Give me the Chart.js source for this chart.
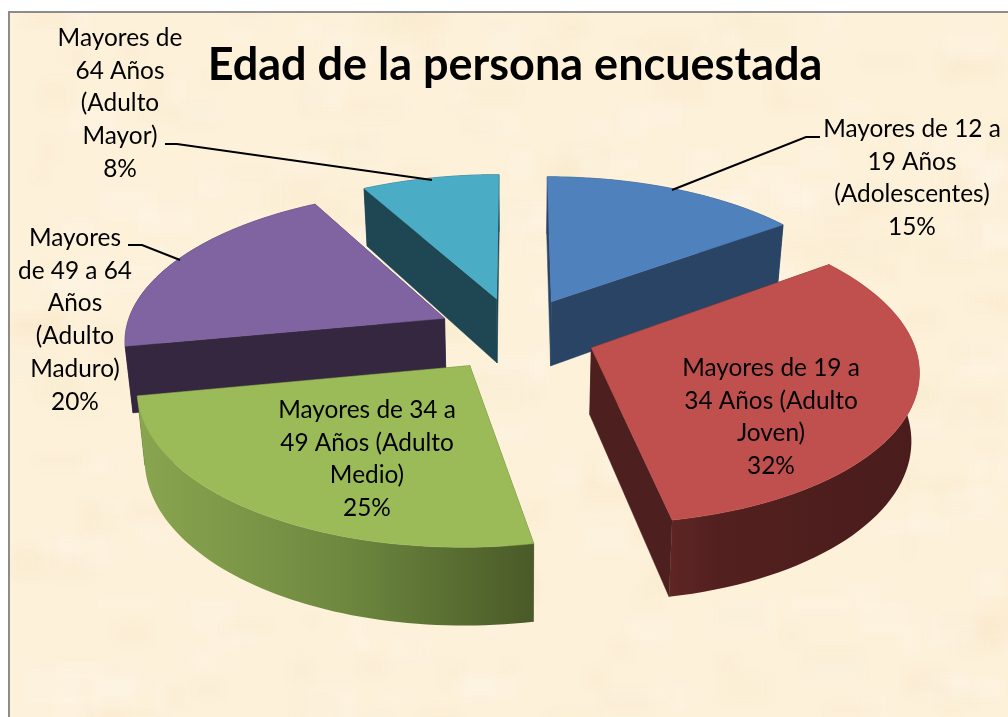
<!DOCTYPE html>
<html><head><meta charset="utf-8">
<script src="https://cdn.jsdelivr.net/npm/chart.js@4"></script>
<style>html,body{margin:0;padding:0;background:#fff;overflow:hidden}
#w{position:absolute;left:0;top:0;width:1008px;height:717px}</style>
</head><body><div id="w"><canvas id="c" width="1008" height="717"></canvas></div>
<script>
const categories = [
 "Mayores de 12 a 19 Años (Adolescentes)",
 "Mayores de 19 a 34 Años (Adulto Joven)",
 "Mayores de 34 a 49 Años (Adulto Medio)",
 "Mayores de 49 a 64 Años (Adulto Maduro)",
 "Mayores de 64 Años (Adulto Mayor)"];
const values = [15,32,25,20,8];
const titleText = "Edad de la persona encuestada";
const topColors = ["#4f81bd","#c0504d","#9bbb59","#8064a2","#4bacc6"];
const cutColors = ["#2a4466","#4e1f1f","#4c5c2a","#35273f","#1e4653"];
const labelLines = [
 ["Mayores de 12 a","19 Años","(Adolescentes)"],
 ["Mayores de 19 a","34 Años (Adulto","Joven)"],
 ["Mayores de 34 a","49 Años (Adulto","Medio)"],
 ["Mayores","de 49 a 64","Años","(Adulto","Maduro)"],
 ["Mayores de","64 Años","(Adulto","Mayor)"]];
const labelAnchor = [[912,129],[771,368],[367,410],[75,238],[120,38]];
const leaders = [
 [[672,190],[806,137],[820,137]],
 null,null,
 [[128,245],[142,245],[180,260]],
 [[165,144],[177,144],[432,180]]];
const view = {cx:516,cy:334,A:320,B:149,k:0.13,explode:0.25,depth:66,shrink:0.98};
const font = "Lato, 'Open Sans', sans-serif";

function project(X,Y,low){
  const w = 1 - view.k*Y, s = low ? view.shrink : 1;
  return [view.cx + view.A*X/w*s, view.cy + view.B*Y/w + (low ? view.depth/w : 0)];
}
function rim(a0,a1,ox,oy,low){
  const n = 60, pts = [];
  for(let i=0;i<=n;i++){const a=a0+(a1-a0)*i/n; pts.push(project(ox+Math.cos(a),oy+Math.sin(a),low));}
  return pts;
}
function poly(ctx,pts,fill){
  ctx.beginPath(); pts.forEach((p,i)=>i?ctx.lineTo(p[0],p[1]):ctx.moveTo(p[0],p[1]));
  ctx.closePath(); ctx.fillStyle=fill; ctx.fill();
  ctx.strokeStyle=typeof fill==='string'?fill:'transparent'; ctx.lineWidth=0.5; ctx.stroke();
}
function wallFill(ctx,i,pts){
  const xs=pts.map(p=>p[0]), x0=Math.min(...xs), x1=Math.max(...xs);
  const g=ctx.createLinearGradient(x0,0,x1,0);
  if(i===2){g.addColorStop(0,"#8aa54f");g.addColorStop(0.5,"#6f8a40");g.addColorStop(1,"#4a5a28");return g;}
  if(i===1){g.addColorStop(0,"#5e2625");g.addColorStop(0.2,"#52201f");g.addColorStop(1,"#4a1c1c");return g;}
  return cutColors[i];
}
const pie3d = {
  id:'pie3d',
  beforeDraw(chart){
    const ctx=chart.ctx, W=chart.width, H=chart.height;
    ctx.save();
    ctx.fillStyle="#fff"; ctx.fillRect(0,0,W,H);
    ctx.fillStyle="#fdf1da"; ctx.fillRect(9,12,W,H);
    // parchment mottling (decorative only)
    ctx.save();
    ctx.beginPath(); ctx.rect(9,12,W,H); ctx.clip();
    ctx.filter="blur(5px)";
    let s=12345; const r=()=>(s=(s*16807)%2147483647)/2147483647;
    for(let i=0;i<420;i++){
      const x=r()*W,y=r()*H,w=14+r()*46,h=8+r()*26;
      const tone=r();
      ctx.fillStyle= tone<0.45?"rgba(255,250,238,0.2)":tone<0.8?"rgba(244,226,188,0.13)":"rgba(238,224,180,0.11)";
      ctx.fillRect(x,y,w,h);
    }
    ctx.restore();
    ctx.fillStyle="#8c8c8c"; ctx.fillRect(8,11,W,2); ctx.fillRect(8,11,2,H);
    ctx.restore();
  },
  beforeDatasetDraw(chart){
    const ctx=chart.ctx, arcs=chart.getDatasetMeta(0).data;
    const order=arcs.map((a,i)=>i).sort((p,q)=>{
      const m=i=>Math.sin((arcs[i].startAngle+arcs[i].endAngle)/2);
      return m(p)-m(q);
    });
    ctx.save();
    order.forEach(i=>{
      const a0=arcs[i].startAngle,a1=arcs[i].endAngle,mid=(a0+a1)/2;
      const ox=view.explode*Math.cos(mid), oy=view.explode*Math.sin(mid);
      const topRim=rim(a0,a1,ox,oy,false), lowRim=rim(a0,a1,ox,oy,true);
      const ap=project(ox,oy,false), apL=project(ox,oy,true);
      const wall=topRim.concat(lowRim.slice().reverse());
      poly(ctx,[ap,topRim[0],lowRim[0],apL],cutColors[i]);
      poly(ctx,[ap,topRim[60],lowRim[60],apL],cutColors[i]);
      poly(ctx,wall,wallFill(ctx,i,wall));
      poly(ctx,[ap].concat(topRim),topColors[i]);
    });
    ctx.restore();
    return false;
  },
  afterDatasetsDraw(chart){
    const ctx=chart.ctx, total=values.reduce((a,b)=>a+b,0);
    ctx.save();
    ctx.strokeStyle="#000"; ctx.lineWidth=2;
    leaders.forEach(l=>{ if(!l) return; ctx.beginPath(); l.forEach((p,i)=>i?ctx.lineTo(p[0],p[1]):ctx.moveTo(p[0],p[1])); ctx.stroke(); });
    ctx.fillStyle="#000"; ctx.textAlign="center"; ctx.textBaseline="middle";
    ctx.font="24.4px "+font;
    labelLines.forEach((lines,i)=>{
      const [x,y]=labelAnchor[i];
      lines.concat([Math.round(values[i]/total*100)+"%"]).forEach((t,j)=>ctx.fillText(t,x,y+j*32.8));
    });
    ctx.restore();
  }
};
new Chart(document.getElementById('c'),{
  type:'pie',
  data:{labels:categories,datasets:[{data:values,backgroundColor:topColors,borderWidth:0}]},
  options:{
    responsive:false,animation:false,
    layout:{padding:{left:22}},
    plugins:{
      legend:{display:false},tooltip:{enabled:false},
      title:{display:true,text:titleText,color:"#000",font:{family:font,size:45,weight:'bold'},padding:{top:38,bottom:10}}
    }
  },
  plugins:[pie3d]
});
</script></body></html>
